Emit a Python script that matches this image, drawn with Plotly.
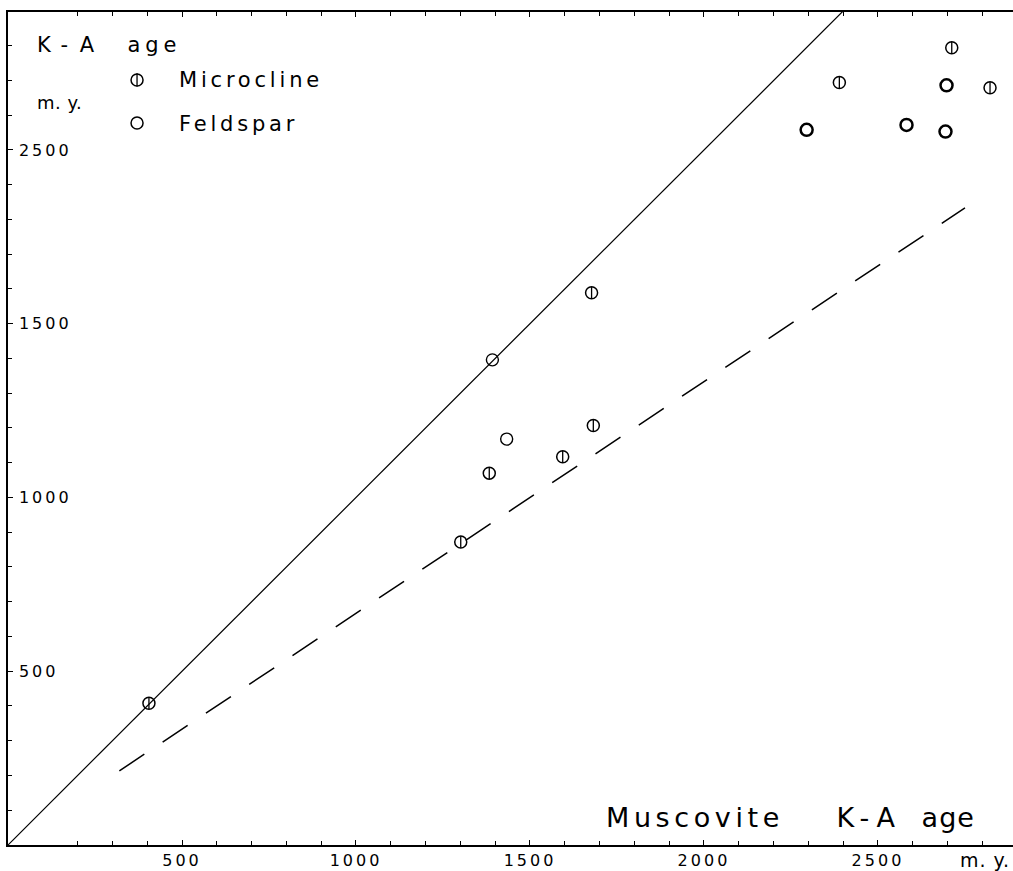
import plotly.graph_objects as go

# --- data -----------------------------------------------------------------
# Microcline K-A ages (m.y.) against muscovite K-A ages (m.y.)
microcline_muscovite = [405, 1301, 1383, 1594, 1682, 1677, 2389, 2712, 2822]
microcline_age = [408, 872, 1070, 1117, 1207, 1589, 2194, 2294, 2179]

# Feldspar K-A ages (m.y.) against muscovite K-A ages (m.y.)
feldspar_muscovite = [1392, 1433, 2295, 2582, 2694, 2697]
feldspar_age = [1396, 1168, 2058, 2072, 2053, 2186]

# equal-age line and the two-thirds line
equal_age_x = [0, 2400]
two_thirds_x = [320, 2750]
two_thirds_slope = 2 / 3

x_tick_vals = [500, 1000, 1500, 2000, 2500]
x_tick_text = ["500", "1000", "1500", "2000", "2500"]
y_tick_vals = [500, 1000, 1500, 2000]
y_tick_text = ["500", "1000", "1500", "2500"]

legend_labels = ["Microcline", "Feldspar"]

# --- styling helpers --------------------------------------------------------
FONT = "DejaVu Sans"
INK = "black"


def spaced(text, px):
    """Wrap text in a span with extra letter spacing (lettering-guide look)."""
    return f'<span style="letter-spacing:{px}px;white-space:pre">{text}</span>'


fig = go.Figure()

# y = x reference line
fig.add_trace(go.Scatter(
    x=equal_age_x, y=equal_age_x, mode="lines",
    line=dict(color=INK, width=1.2), hoverinfo="skip", showlegend=False,
))

# y = 2/3 x dashed line
fig.add_trace(go.Scatter(
    x=two_thirds_x, y=[two_thirds_slope * v for v in two_thirds_x], mode="lines",
    line=dict(color=INK, width=1.5, dash="30px,22px"),
    hoverinfo="skip", showlegend=False,
))

# microcline: open circle with a vertical bar through it
fig.add_trace(go.Scatter(
    x=microcline_muscovite, y=microcline_age, mode="markers",
    marker=dict(symbol="circle-open", size=12, color=INK, line=dict(width=1.5)),
    name="Microcline", showlegend=False,
))
fig.add_trace(go.Scatter(
    x=microcline_muscovite, y=microcline_age, mode="markers",
    marker=dict(symbol="line-ns-open", size=8.2, color=INK, line=dict(width=1.3)),
    hoverinfo="skip", showlegend=False,
))

# feldspar: plain open circle (the older samples are inked heavier)
fig.add_trace(go.Scatter(
    x=feldspar_muscovite, y=feldspar_age, mode="markers",
    marker=dict(
        symbol="circle-open", size=12, color=INK,
        line=dict(color=INK, width=[2.5 if v > 2000 else 1.4 for v in feldspar_muscovite]),
    ),
    name="Feldspar", showlegend=False,
))

# key symbols, drawn on an invisible unit overlay
key_x = [0.1284, 0.1284]
key_y = [0.9184, 0.8667]
fig.add_trace(go.Scatter(
    x=key_x, y=key_y, xaxis="x2", yaxis="y2", mode="markers",
    marker=dict(symbol="circle-open", size=12, color=INK, line=dict(width=1.5)),
    hoverinfo="skip", showlegend=False,
))
fig.add_trace(go.Scatter(
    x=key_x[:1], y=key_y[:1], xaxis="x2", yaxis="y2", mode="markers",
    marker=dict(symbol="line-ns-open", size=9.5, color=INK, line=dict(width=1.3)),
    hoverinfo="skip", showlegend=False,
))

annotations = [
    dict(x=0.0269, y=0.9604, xanchor="left", yanchor="middle",
         text=spaced("K-A", 12) + spaced("  ", 4) + spaced("age", 5),
         font=dict(size=21)),
    dict(x=0.0269, y=0.8908, xanchor="left", yanchor="middle",
         text=spaced("m. y.", 0.5), font=dict(size=18)),
    dict(x=0.1682, y=0.9184, xanchor="left", yanchor="middle",
         text=spaced(legend_labels[0], 3.8), font=dict(size=21)),
    dict(x=0.1682, y=0.8655, xanchor="left", yanchor="middle",
         text=spaced(legend_labels[1], 3.8), font=dict(size=21)),
    dict(x=0.5935, y=0.0336, xanchor="left", yanchor="middle",
         text=spaced("Muscovite", 4.6) + spaced(" ", 44) + spaced("K-A", 8)
         + spaced(" ", 10) + spaced("age", 1),
         font=dict(size=27)),
    dict(x=0.9453, y=-0.018, xanchor="left", yanchor="middle",
         text=spaced("m. y.", 1), font=dict(size=19)),
]
for a in annotations:
    a.update(xref="paper", yref="paper", showarrow=False)
    a["font"].update(family=FONT, color=INK)

axis_common = dict(
    showgrid=False, zeroline=False, showline=True, linecolor=INK, linewidth=2,
    ticks="inside", ticklen=5, tickwidth=1.2, tickcolor=INK,
    tickfont=dict(family=FONT, size=16, color=INK), fixedrange=True,
)
minor_common = dict(tickmode="linear", tick0=0, dtick=100, ticks="inside",
                    ticklen=4, tickwidth=1.2, tickcolor=INK, showgrid=False)

fig.update_layout(
    width=1013, height=871,
    margin=dict(l=8, r=0, t=12, b=26),
    paper_bgcolor="white", plot_bgcolor="white",
    font=dict(family=FONT, color=INK),
    showlegend=False,
    xaxis=dict(
        range=[0, 2888], tickmode="array", tickvals=x_tick_vals,
        ticktext=[spaced(t, 3) for t in x_tick_text],
        mirror="ticks", minor=minor_common, **axis_common,
    ),
    yaxis=dict(
        range=[0, 2397], tickmode="array", tickvals=y_tick_vals,
        # labels sit inside the frame, pushed a little clear of the ticks
        ticktext=[spaced(" ", 1) + spaced(t, 3) for t in y_tick_text],
        ticklabelposition="inside",
        minor=minor_common, **axis_common,
    ),
    xaxis2=dict(overlaying="x", range=[0, 1], visible=False, fixedrange=True),
    yaxis2=dict(overlaying="y", range=[0, 1], visible=False, fixedrange=True),
    annotations=annotations,
)

fig.write_html("out.html")
